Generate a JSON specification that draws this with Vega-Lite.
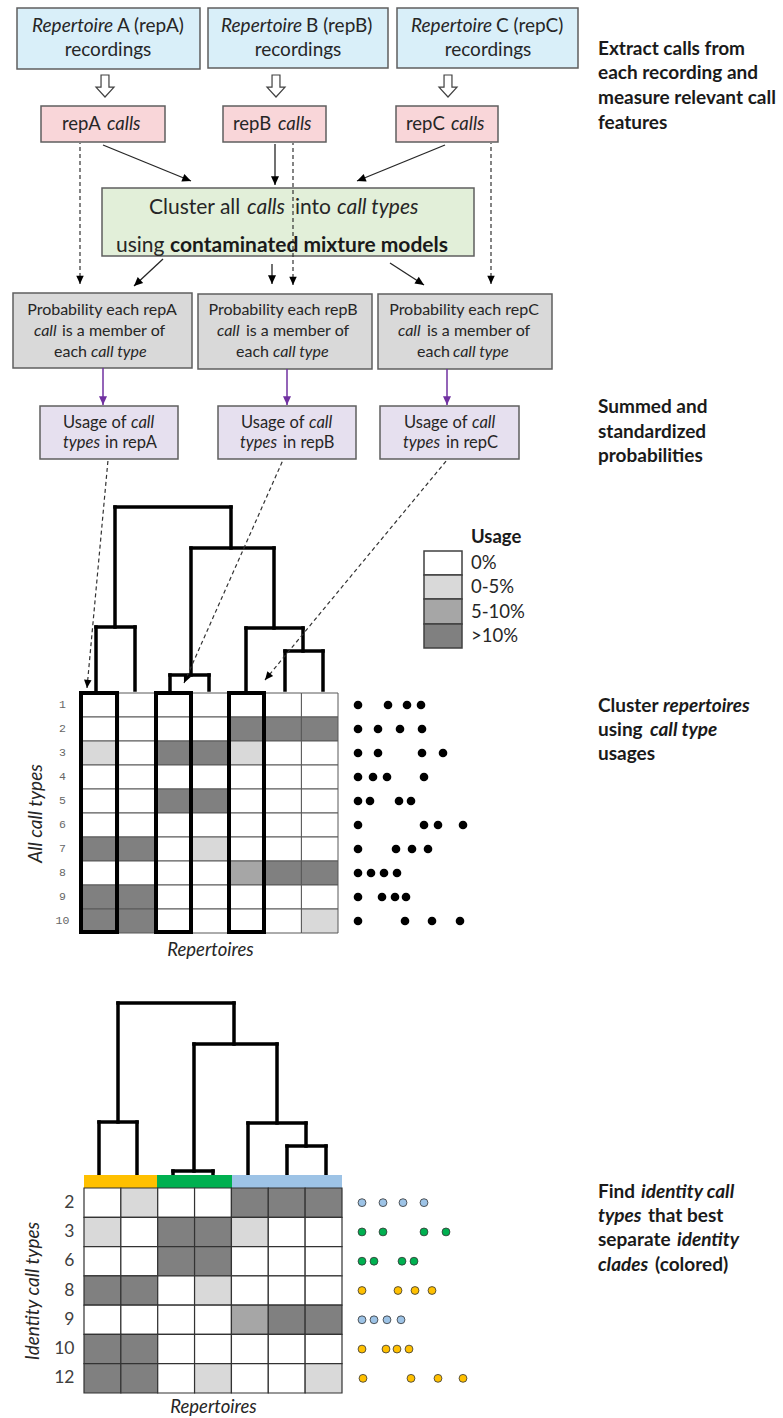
{
"$schema":"https://vega.github.io/schema/vega-lite/v6.json",
"width":783,"height":1418,"padding":0,"autosize":{"type":"none"},
"background":"white",
"config":{"view":{"stroke":null},"text":{"font":"Lato"},"axis":{"grid":false,"domain":false,"ticks":false,"tickSize":0}},
"datasets":{
"boxes":[
{"kind":"recordings","x":17,"x2":200,"y":8,"y2":69},
{"kind":"recordings","x":208,"x2":388,"y":8,"y2":68},
{"kind":"recordings","x":397,"x2":578,"y":8,"y2":68},
{"kind":"calls","x":41,"x2":165,"y":106,"y2":142},
{"kind":"calls","x":223,"x2":326,"y":106,"y2":142},
{"kind":"calls","x":396,"x2":498,"y":106,"y2":142},
{"kind":"cluster","x":102,"x2":474,"y":188,"y2":256},
{"kind":"probability","x":13,"x2":192,"y":293,"y2":368},
{"kind":"probability","x":198,"x2":372,"y":294,"y2":369},
{"kind":"probability","x":378,"x2":552,"y":294,"y2":369},
{"kind":"usage","x":40,"x2":178,"y":406,"y2":459},
{"kind":"usage","x":218,"x2":356,"y":406,"y2":459},
{"kind":"usage","x":380,"x2":519,"y":406,"y2":459}],
"blockarrows":[{"x":105,"y":86},{"x":276,"y":86},{"x":448,"y":86}],
"arrows_solid":[
{"x":191,"y":181,"x2":103,"y2":145,"ang":-67.8},
{"x":275,"y":185,"x2":275,"y2":144,"ang":0},
{"x":357,"y":181,"x2":445,"y2":145,"ang":67.8},
{"x":134,"y":286,"x2":163,"y2":259,"ang":47},
{"x":272,"y":284,"x2":272,"y2":264,"ang":0},
{"x":424,"y":285,"x2":390,"y2":263,"ang":-57.1}],
"arrows_dashed":[
{"x":80,"y":284,"x2":80,"y2":143,"ang":0},
{"x":293,"y":285,"x2":293,"y2":143,"ang":0},
{"x":491,"y":284,"x2":491,"y2":143,"ang":0},
{"x":87,"y":688,"x2":108,"y2":460,"ang":5.3},
{"x":184,"y":683,"x2":283,"y2":460,"ang":23.9},
{"x":265,"y":680,"x2":447,"y2":460,"ang":39.6}],
"arrows_purple":[
{"x":103,"y":405,"x2":103,"y2":368,"ang":0},
{"x":287,"y":405,"x2":287,"y2":369,"ang":0},
{"x":447,"y":405,"x2":447,"y2":369,"ang":0}],
"dendro":[
{"x":96,"y":627,"x2":96,"y2":690},
{"x":135,"y":627,"x2":135,"y2":690},
{"x":96,"y":627,"x2":135,"y2":627},
{"x":115,"y":507,"x2":115,"y2":627},
{"x":170,"y":675,"x2":170,"y2":690},
{"x":209,"y":675,"x2":209,"y2":690},
{"x":170,"y":675,"x2":209,"y2":675},
{"x":191,"y":548,"x2":191,"y2":675},
{"x":285,"y":651,"x2":285,"y2":690},
{"x":323,"y":651,"x2":323,"y2":690},
{"x":285,"y":651,"x2":323,"y2":651},
{"x":303,"y":628,"x2":303,"y2":651},
{"x":246,"y":628,"x2":246,"y2":690},
{"x":246,"y":628,"x2":303,"y2":628},
{"x":274,"y":548,"x2":274,"y2":628},
{"x":191,"y":548,"x2":274,"y2":548},
{"x":231,"y":507,"x2":231,"y2":548},
{"x":115,"y":507,"x2":231,"y2":507},
{"x":118,"y":1003,"x2":234,"y2":1003},
{"x":118,"y":1003,"x2":118,"y2":1122},
{"x":99,"y":1122,"x2":137,"y2":1122},
{"x":99,"y":1122,"x2":99,"y2":1175},
{"x":137,"y":1122,"x2":137,"y2":1175},
{"x":234,"y":1003,"x2":234,"y2":1044},
{"x":194,"y":1044,"x2":277,"y2":1044},
{"x":194,"y":1044,"x2":194,"y2":1171},
{"x":173,"y":1171,"x2":213,"y2":1171},
{"x":173,"y":1171,"x2":173,"y2":1175},
{"x":213,"y":1171,"x2":213,"y2":1175},
{"x":277,"y":1044,"x2":277,"y2":1123},
{"x":248,"y":1123,"x2":306,"y2":1123},
{"x":248,"y":1123,"x2":248,"y2":1175},
{"x":306,"y":1123,"x2":306,"y2":1146},
{"x":287,"y":1146,"x2":326,"y2":1146},
{"x":287,"y":1146,"x2":287,"y2":1175},
{"x":326,"y":1146,"x2":326,"y2":1175}],
"cladebar":[
{"clade":"clade 1","x":84,"x2":157,"y":1175,"y2":1188},
{"clade":"clade 2","x":157,"x2":232,"y":1175,"y2":1188},
{"clade":"clade 3","x":232,"x2":342,"y":1175,"y2":1188}],
"legend":[
{"u":"0%","x":424,"x2":462,"y":551,"y2":575},
{"u":"0-5%","x":424,"x2":462,"y":575,"y2":599},
{"u":"5-10%","x":424,"x2":462,"y":599,"y2":624},
{"u":">10%","x":424,"x2":462,"y":624,"y2":648}],
"outlines":[
{"x":81,"x2":117,"y":693,"y2":932},
{"x":156,"x2":191,"y":693,"y2":932},
{"x":229,"x2":264,"y":693,"y2":932}],
"t_normal":[
{"block":"top","text":"A (repA)","x":117,"y":26},
{"block":"top","text":"B (repB)","x":306,"y":26},
{"block":"top","text":"C (repC)","x":496,"y":26},
{"block":"pink","text":"repA","x":62,"y":124},
{"block":"pink","text":"repB","x":233,"y":124},
{"block":"pink","text":"repC","x":406,"y":124},
{"block":"green","text":"Cluster all","x":149,"y":208},
{"block":"green","text":"into","x":295,"y":208},
{"block":"green","text":"using","x":116,"y":246},
{"block":"gray","text":"is a member of","x":62,"y":331},
{"block":"gray","text":"is a member of","x":246,"y":331},
{"block":"gray","text":"is a member of","x":427,"y":331},
{"block":"gray","text":"each","x":54,"y":352},
{"block":"gray","text":"each","x":236,"y":352},
{"block":"gray","text":"each","x":417,"y":352},
{"block":"purple","text":"Usage of","x":63,"y":423},
{"block":"purple","text":"Usage of","x":241,"y":423},
{"block":"purple","text":"Usage of","x":404,"y":423},
{"block":"purple","text":"in repA","x":105,"y":443},
{"block":"purple","text":"in repB","x":283,"y":443},
{"block":"purple","text":"in repC","x":446,"y":443},
{"block":"legend","text":"0%","x":471,"y":563},
{"block":"legend","text":"0-5%","x":471,"y":587},
{"block":"legend","text":"5-10%","x":471,"y":612},
{"block":"legend","text":">10%","x":471,"y":636}],
"t_normal_c":[
{"block":"top","text":"recordings","x":108,"y":50},
{"block":"top","text":"recordings","x":298,"y":50},
{"block":"top","text":"recordings","x":488,"y":50},
{"block":"gray","text":"Probability each repA","x":102,"y":310},
{"block":"gray","text":"Probability each repB","x":283,"y":310},
{"block":"gray","text":"Probability each repC","x":464,"y":310}],
"t_italic":[
{"block":"top","text":"Repertoire","x":32,"y":26},
{"block":"top","text":"Repertoire","x":221,"y":26},
{"block":"top","text":"Repertoire","x":411,"y":26},
{"block":"pink","text":"calls","x":107,"y":124},
{"block":"pink","text":"calls","x":278,"y":124},
{"block":"pink","text":"calls","x":451,"y":124},
{"block":"green","text":"calls","x":247,"y":208},
{"block":"green","text":"call types","x":337,"y":208},
{"block":"gray","text":"call","x":34,"y":331},
{"block":"gray","text":"call","x":217,"y":331},
{"block":"gray","text":"call","x":398,"y":331},
{"block":"gray","text":"call type","x":91,"y":352},
{"block":"gray","text":"call type","x":273,"y":352},
{"block":"gray","text":"call type","x":453,"y":352},
{"block":"purple","text":"call","x":131,"y":423},
{"block":"purple","text":"call","x":309,"y":423},
{"block":"purple","text":"call","x":472,"y":423},
{"block":"purple","text":"types","x":63,"y":443},
{"block":"purple","text":"types","x":240,"y":443},
{"block":"purple","text":"types","x":403,"y":443}],
"t_bold":[
{"block":"green","text":"contaminated mixture models","x":170,"y":246},
{"block":"side","text":"Extract calls from","x":598,"y":49},
{"block":"side","text":"each recording and","x":598,"y":73},
{"block":"side","text":"measure relevant call","x":598,"y":98},
{"block":"side","text":"features","x":598,"y":123},
{"block":"side","text":"Summed and","x":598,"y":407},
{"block":"side","text":"standardized","x":598,"y":432},
{"block":"side","text":"probabilities","x":598,"y":456},
{"block":"side","text":"Cluster","x":598,"y":706},
{"block":"side","text":"using","x":598,"y":730},
{"block":"side","text":"usages","x":598,"y":754},
{"block":"side","text":"Find","x":598,"y":1192},
{"block":"side","text":"that best","x":648,"y":1216},
{"block":"side","text":"separate","x":598,"y":1240},
{"block":"side","text":"(colored)","x":655,"y":1265},
{"block":"legend","text":"Usage","x":471,"y":537}],
"t_bolditalic":[
{"block":"side","text":"repertoires","x":663,"y":706},
{"block":"side","text":"call type","x":650,"y":730},
{"block":"side","text":"identity call","x":641,"y":1192},
{"block":"side","text":"types","x":598,"y":1216},
{"block":"side","text":"identity","x":677,"y":1240},
{"block":"side","text":"clades","x":598,"y":1265}],
"heat1":[
{"ct":"1","rep":1,"u":"0%"},{"ct":"1","rep":2,"u":"0%"},{"ct":"1","rep":3,"u":"0%"},{"ct":"1","rep":4,"u":"0%"},{"ct":"1","rep":5,"u":"0%"},{"ct":"1","rep":6,"u":"0%"},{"ct":"1","rep":7,"u":"0%"},
{"ct":"2","rep":1,"u":"0%"},{"ct":"2","rep":2,"u":"0%"},{"ct":"2","rep":3,"u":"0%"},{"ct":"2","rep":4,"u":"0%"},{"ct":"2","rep":5,"u":">10%"},{"ct":"2","rep":6,"u":">10%"},{"ct":"2","rep":7,"u":">10%"},
{"ct":"3","rep":1,"u":"0-5%"},{"ct":"3","rep":2,"u":"0%"},{"ct":"3","rep":3,"u":">10%"},{"ct":"3","rep":4,"u":">10%"},{"ct":"3","rep":5,"u":"0-5%"},{"ct":"3","rep":6,"u":"0%"},{"ct":"3","rep":7,"u":"0%"},
{"ct":"4","rep":1,"u":"0%"},{"ct":"4","rep":2,"u":"0%"},{"ct":"4","rep":3,"u":"0%"},{"ct":"4","rep":4,"u":"0%"},{"ct":"4","rep":5,"u":"0%"},{"ct":"4","rep":6,"u":"0%"},{"ct":"4","rep":7,"u":"0%"},
{"ct":"5","rep":1,"u":"0%"},{"ct":"5","rep":2,"u":"0%"},{"ct":"5","rep":3,"u":">10%"},{"ct":"5","rep":4,"u":">10%"},{"ct":"5","rep":5,"u":"0%"},{"ct":"5","rep":6,"u":"0%"},{"ct":"5","rep":7,"u":"0%"},
{"ct":"6","rep":1,"u":"0%"},{"ct":"6","rep":2,"u":"0%"},{"ct":"6","rep":3,"u":"0%"},{"ct":"6","rep":4,"u":"0%"},{"ct":"6","rep":5,"u":"0%"},{"ct":"6","rep":6,"u":"0%"},{"ct":"6","rep":7,"u":"0%"},
{"ct":"7","rep":1,"u":">10%"},{"ct":"7","rep":2,"u":">10%"},{"ct":"7","rep":3,"u":"0%"},{"ct":"7","rep":4,"u":"0-5%"},{"ct":"7","rep":5,"u":"0%"},{"ct":"7","rep":6,"u":"0%"},{"ct":"7","rep":7,"u":"0%"},
{"ct":"8","rep":1,"u":"0%"},{"ct":"8","rep":2,"u":"0%"},{"ct":"8","rep":3,"u":"0%"},{"ct":"8","rep":4,"u":"0%"},{"ct":"8","rep":5,"u":"5-10%"},{"ct":"8","rep":6,"u":">10%"},{"ct":"8","rep":7,"u":">10%"},
{"ct":"9","rep":1,"u":">10%"},{"ct":"9","rep":2,"u":">10%"},{"ct":"9","rep":3,"u":"0%"},{"ct":"9","rep":4,"u":"0%"},{"ct":"9","rep":5,"u":"0%"},{"ct":"9","rep":6,"u":"0%"},{"ct":"9","rep":7,"u":"0%"},
{"ct":"10","rep":1,"u":">10%"},{"ct":"10","rep":2,"u":">10%"},{"ct":"10","rep":3,"u":"0%"},{"ct":"10","rep":4,"u":"0%"},{"ct":"10","rep":5,"u":"0%"},{"ct":"10","rep":6,"u":"0%"},{"ct":"10","rep":7,"u":"0-5%"}],
"heat2":[
{"ct":"2","rep":1,"u":"0%"},{"ct":"2","rep":2,"u":"0-5%"},{"ct":"2","rep":3,"u":"0%"},{"ct":"2","rep":4,"u":"0%"},{"ct":"2","rep":5,"u":">10%"},{"ct":"2","rep":6,"u":">10%"},{"ct":"2","rep":7,"u":">10%"},
{"ct":"3","rep":1,"u":"0-5%"},{"ct":"3","rep":2,"u":"0%"},{"ct":"3","rep":3,"u":">10%"},{"ct":"3","rep":4,"u":">10%"},{"ct":"3","rep":5,"u":"0-5%"},{"ct":"3","rep":6,"u":"0%"},{"ct":"3","rep":7,"u":"0%"},
{"ct":"6","rep":1,"u":"0%"},{"ct":"6","rep":2,"u":"0%"},{"ct":"6","rep":3,"u":">10%"},{"ct":"6","rep":4,"u":">10%"},{"ct":"6","rep":5,"u":"0%"},{"ct":"6","rep":6,"u":"0%"},{"ct":"6","rep":7,"u":"0%"},
{"ct":"8","rep":1,"u":">10%"},{"ct":"8","rep":2,"u":">10%"},{"ct":"8","rep":3,"u":"0%"},{"ct":"8","rep":4,"u":"0-5%"},{"ct":"8","rep":5,"u":"0%"},{"ct":"8","rep":6,"u":"0%"},{"ct":"8","rep":7,"u":"0%"},
{"ct":"9","rep":1,"u":"0%"},{"ct":"9","rep":2,"u":"0%"},{"ct":"9","rep":3,"u":"0%"},{"ct":"9","rep":4,"u":"0%"},{"ct":"9","rep":5,"u":"5-10%"},{"ct":"9","rep":6,"u":">10%"},{"ct":"9","rep":7,"u":">10%"},
{"ct":"10","rep":1,"u":">10%"},{"ct":"10","rep":2,"u":">10%"},{"ct":"10","rep":3,"u":"0%"},{"ct":"10","rep":4,"u":"0%"},{"ct":"10","rep":5,"u":"0%"},{"ct":"10","rep":6,"u":"0%"},{"ct":"10","rep":7,"u":"0%"},
{"ct":"12","rep":1,"u":">10%"},{"ct":"12","rep":2,"u":">10%"},{"ct":"12","rep":3,"u":"0%"},{"ct":"12","rep":4,"u":"0-5%"},{"ct":"12","rep":5,"u":"0%"},{"ct":"12","rep":6,"u":"0%"},{"ct":"12","rep":7,"u":"0-5%"}],
"dots1":[
{"ct":"1","t":0},{"ct":"1","t":30},{"ct":"1","t":49},{"ct":"1","t":63},
{"ct":"2","t":0},{"ct":"2","t":20},{"ct":"2","t":42},{"ct":"2","t":64},
{"ct":"3","t":0},{"ct":"3","t":20},{"ct":"3","t":64},{"ct":"3","t":85},
{"ct":"4","t":0},{"ct":"4","t":15},{"ct":"4","t":29},{"ct":"4","t":66},
{"ct":"5","t":0},{"ct":"5","t":12},{"ct":"5","t":41},{"ct":"5","t":53},
{"ct":"6","t":0},{"ct":"6","t":66},{"ct":"6","t":80},{"ct":"6","t":105},
{"ct":"7","t":0},{"ct":"7","t":38},{"ct":"7","t":54},{"ct":"7","t":70},
{"ct":"8","t":0},{"ct":"8","t":13},{"ct":"8","t":26},{"ct":"8","t":39},
{"ct":"9","t":0},{"ct":"9","t":24},{"ct":"9","t":37},{"ct":"9","t":48},
{"ct":"10","t":0},{"ct":"10","t":47},{"ct":"10","t":74},{"ct":"10","t":102}],
"dots2":[
{"ct":"2","t":4,"clade":"clade 3"},{"ct":"2","t":25,"clade":"clade 3"},{"ct":"2","t":45,"clade":"clade 3"},{"ct":"2","t":66,"clade":"clade 3"},
{"ct":"3","t":4,"clade":"clade 2"},{"ct":"3","t":25,"clade":"clade 2"},{"ct":"3","t":66,"clade":"clade 2"},{"ct":"3","t":88,"clade":"clade 2"},
{"ct":"6","t":4,"clade":"clade 2"},{"ct":"6","t":16,"clade":"clade 2"},{"ct":"6","t":44,"clade":"clade 2"},{"ct":"6","t":56,"clade":"clade 2"},
{"ct":"8","t":4,"clade":"clade 1"},{"ct":"8","t":40,"clade":"clade 1"},{"ct":"8","t":57,"clade":"clade 1"},{"ct":"8","t":74,"clade":"clade 1"},
{"ct":"9","t":4,"clade":"clade 3"},{"ct":"9","t":16,"clade":"clade 3"},{"ct":"9","t":29,"clade":"clade 3"},{"ct":"9","t":43,"clade":"clade 3"},
{"ct":"10","t":4,"clade":"clade 1"},{"ct":"10","t":28,"clade":"clade 1"},{"ct":"10","t":39,"clade":"clade 1"},{"ct":"10","t":51,"clade":"clade 1"},
{"ct":"12","t":5,"clade":"clade 1"},{"ct":"12","t":53,"clade":"clade 1"},{"ct":"12","t":80,"clade":"clade 1"},{"ct":"12","t":105,"clade":"clade 1"}]
},
"resolve":{"scale":{"x":"independent","y":"independent","fill":"independent","size":"independent"}},
"layer":[
{
"encoding":{
"x":{"field":"x","type":"quantitative","scale":{"domain":[0,783],"range":[0,783],"nice":false,"zero":false},"axis":null},
"y":{"field":"y","type":"quantitative","scale":{"domain":[0,1418],"range":[0,1418],"nice":false,"zero":false},"axis":null}},
"resolve":{"scale":{"fill":"independent","size":"independent"}},
"layer":[
{"data":{"name":"boxes"},"mark":{"type":"rect","stroke":"#5f5f5f","strokeWidth":1.5},
 "encoding":{"x2":{"field":"x2"},"y2":{"field":"y2"},
 "fill":{"field":"kind","type":"nominal","scale":{"domain":["recordings","calls","cluster","probability","usage"],"range":["#d9eff9","#f9d6d9","#e2efd9","#d9d9d9","#e6e0ef"]},"legend":null}}},
{"data":{"name":"blockarrows"},"mark":{"type":"point","shape":"M-0.36,-1L0.36,-1L0.36,0.1L0.82,0.1L0,1L-0.82,0.1L-0.36,0.1Z","size":484,"filled":true,"fill":"#ffffff","stroke":"#404040","strokeWidth":1.2,"opacity":1},"encoding":{}},
{"data":{"name":"dendro"},"mark":{"type":"rule","color":"#000000","strokeWidth":3.5,"strokeCap":"square"},"encoding":{"x2":{"field":"x2"},"y2":{"field":"y2"}}},
{"data":{"name":"cladebar"},"mark":{"type":"rect"},
 "encoding":{"x2":{"field":"x2"},"y2":{"field":"y2"},
 "fill":{"field":"clade","type":"nominal","scale":{"domain":["clade 1","clade 2","clade 3"],"range":["#ffc000","#00b050","#9dc3e6"]},"legend":null}}},
{"data":{"name":"legend"},"mark":{"type":"rect","stroke":"#404040","strokeWidth":1.5},
 "encoding":{"x2":{"field":"x2"},"y2":{"field":"y2"},
 "fill":{"field":"u","type":"ordinal","scale":{"domain":["0%","0-5%","5-10%",">10%"],"range":["#ffffff","#d9d9d9","#a6a6a6","#808080"]},"legend":null}}},
{"data":{"name":"arrows_solid"},"mark":{"type":"rule","color":"#262626","strokeWidth":1.3},"encoding":{"x2":{"field":"x2"},"y2":{"field":"y2"}}},
{"data":{"name":"arrows_solid"},"mark":{"type":"point","shape":"M0,0L-1,-2.2L1,-2.2Z","size":64,"filled":true,"color":"#000000","opacity":1},"encoding":{"angle":{"field":"ang","type":"quantitative","scale":null}}},
{"data":{"name":"arrows_dashed"},"mark":{"type":"rule","color":"#333333","strokeWidth":1.2,"strokeDash":[4,3]},"encoding":{"x2":{"field":"x2"},"y2":{"field":"y2"}}},
{"data":{"name":"arrows_dashed"},"mark":{"type":"point","shape":"M0,0L-1,-2.2L1,-2.2Z","size":56,"filled":true,"color":"#000000","opacity":1},"encoding":{"angle":{"field":"ang","type":"quantitative","scale":null}}},
{"data":{"name":"arrows_purple"},"mark":{"type":"rule","color":"#7030a0","strokeWidth":1.5},"encoding":{"x2":{"field":"x2"},"y2":{"field":"y2"}}},
{"data":{"name":"arrows_purple"},"mark":{"type":"point","shape":"M0,0L-1,-2.2L1,-2.2Z","size":64,"filled":true,"color":"#7030a0","opacity":1},"encoding":{"angle":{"field":"ang","type":"quantitative","scale":null}}},
{"data":{"name":"t_normal"},"mark":{"type":"text","align":"left","baseline":"middle","font":"Lato","color":"#262626"},
 "encoding":{"text":{"field":"text"},"size":{"field":"block","type":"nominal","scale":{"type":"ordinal","domain":["top","pink","green","gray","purple","side","legend"],"range":[19,18.5,21,16,16.5,19,18.5]},"legend":null}}},
{"data":{"name":"t_normal_c"},"mark":{"type":"text","align":"center","baseline":"middle","font":"Lato","color":"#262626"},
 "encoding":{"text":{"field":"text"},"size":{"field":"block","type":"nominal","scale":{"type":"ordinal","domain":["top","pink","green","gray","purple","side","legend"],"range":[19,18.5,21,16,16.5,19,18.5]},"legend":null}}},
{"data":{"name":"t_italic"},"mark":{"type":"text","align":"left","baseline":"middle","font":"Lato","fontStyle":"italic","color":"#262626"},
 "encoding":{"text":{"field":"text"},"size":{"field":"block","type":"nominal","scale":{"type":"ordinal","domain":["top","pink","green","gray","purple","side","legend"],"range":[19,18.5,21,16,16.5,19,18.5]},"legend":null}}},
{"data":{"name":"t_bold"},"mark":{"type":"text","align":"left","baseline":"middle","font":"Lato","fontWeight":"bold","color":"#1a1a1a"},
 "encoding":{"text":{"field":"text"},"size":{"field":"block","type":"nominal","scale":{"type":"ordinal","domain":["top","pink","green","gray","purple","side","legend"],"range":[19,18.5,21,16,16.5,19,18.5]},"legend":null}}},
{"data":{"name":"t_bolditalic"},"mark":{"type":"text","align":"left","baseline":"middle","font":"Lato","fontWeight":"bold","fontStyle":"italic","color":"#1a1a1a"},
 "encoding":{"text":{"field":"text"},"size":{"field":"block","type":"nominal","scale":{"type":"ordinal","domain":["top","pink","green","gray","purple","side","legend"],"range":[19,18.5,21,16,16.5,19,18.5]},"legend":null}}}
]},
{
"encoding":{"y":{"field":"ct","type":"ordinal","scale":{"type":"band","domain":["1","2","3","4","5","6","7","8","9","10"],"range":[693,933],"paddingInner":0,"paddingOuter":0},
 "axis":{"orient":"left","offset":-70,"labelPadding":8,"labelAlign":"center","labelBaseline":"middle","labelFont":"Liberation Mono","labelFontSize":11.5,"labelColor":"#666666","title":"All call types","titleFont":"Lato","titleFontSize":19,"titleFontStyle":"italic","titleFontWeight":"normal","titleColor":"#262626","titlePadding":10}}},
"resolve":{"scale":{"x":"independent","fill":"independent"}},
"layer":[
{"data":{"name":"heat1"},"mark":{"type":"rect","stroke":"#595959","strokeWidth":1},
 "encoding":{"x":{"field":"rep","type":"ordinal","scale":{"type":"band","domain":[1,2,3,4,5,6,7],"range":[82,338],"paddingInner":0,"paddingOuter":0},
  "axis":{"orient":"bottom","offset":-485,"labels":false,"title":"Repertoires","titleFont":"Lato","titleFontSize":18.5,"titleFontStyle":"italic","titleFontWeight":"normal","titleColor":"#262626","titlePadding":7}},
 "fill":{"field":"u","type":"ordinal","scale":{"domain":["0%","0-5%","5-10%",">10%"],"range":["#ffffff","#d9d9d9","#a6a6a6","#808080"]},"legend":null}}},
{"data":{"name":"dots1"},"mark":{"type":"point","filled":true,"color":"#000000","opacity":1,"size":75},
 "encoding":{"x":{"field":"t","type":"quantitative","scale":{"domain":[0,105],"range":[358,463],"nice":false,"zero":false},"axis":null}}}
]},
{
"encoding":{"y":{"field":"ct","type":"ordinal","scale":{"type":"band","domain":["2","3","6","8","9","10","12"],"range":[1188,1393],"paddingInner":0,"paddingOuter":0},
 "axis":{"orient":"left","offset":-78,"labelPadding":4,"labelAlign":"right","labelBaseline":"middle","labelFont":"Lato","labelFontSize":17.5,"labelColor":"#404040","title":"Identity call types","titleFont":"Lato","titleFontSize":19,"titleFontStyle":"italic","titleFontWeight":"normal","titleColor":"#262626","titlePadding":11}}},
"resolve":{"scale":{"x":"independent","fill":"independent"}},
"layer":[
{"data":{"name":"heat2"},"mark":{"type":"rect","stroke":"#333333","strokeWidth":1.2},
 "encoding":{"x":{"field":"rep","type":"ordinal","scale":{"type":"band","domain":[1,2,3,4,5,6,7],"range":[84,342],"paddingInner":0,"paddingOuter":0},
  "axis":{"orient":"bottom","offset":-25,"labels":false,"title":"Repertoires","titleFont":"Lato","titleFontSize":18.5,"titleFontStyle":"italic","titleFontWeight":"normal","titleColor":"#262626","titlePadding":4}},
 "fill":{"field":"u","type":"ordinal","scale":{"domain":["0%","0-5%","5-10%",">10%"],"range":["#ffffff","#d9d9d9","#a6a6a6","#808080"]},"legend":null}}},
{"data":{"name":"dots2"},"mark":{"type":"point","filled":true,"stroke":"#333333","strokeWidth":0.8,"opacity":1,"size":62},
 "encoding":{"x":{"field":"t","type":"quantitative","scale":{"domain":[0,105],"range":[358,463],"nice":false,"zero":false},"axis":null},
 "fill":{"field":"clade","type":"nominal","scale":{"domain":["clade 1","clade 2","clade 3"],"range":["#ffc000","#00b050","#9dc3e6"]},"legend":null}}}
]},
{
"data":{"name":"outlines"},
"mark":{"type":"rect","fillOpacity":0,"stroke":"#000000","strokeWidth":4},
"encoding":{
"x":{"field":"x","type":"quantitative","scale":{"domain":[0,783],"range":[0,783],"nice":false,"zero":false},"axis":null},
"x2":{"field":"x2"},
"y":{"field":"y","type":"quantitative","scale":{"domain":[0,1418],"range":[0,1418],"nice":false,"zero":false},"axis":null},
"y2":{"field":"y2"}}
}
]
}
